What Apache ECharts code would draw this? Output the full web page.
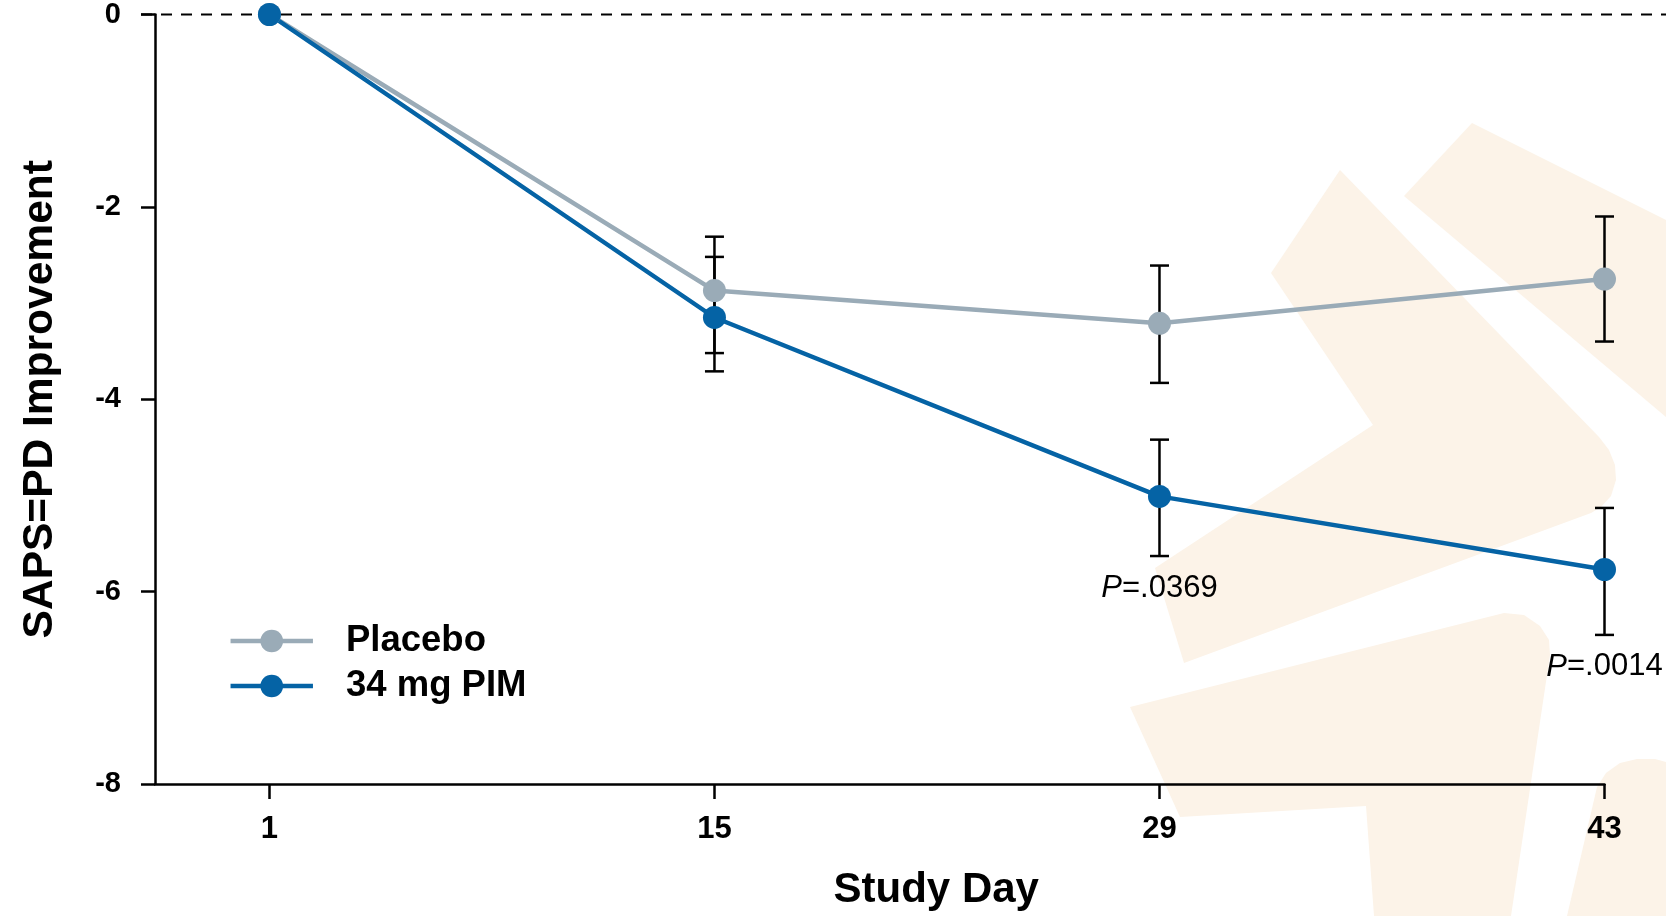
<!DOCTYPE html>
<html><head><meta charset="utf-8">
<script src="https://cdn.jsdelivr.net/npm/echarts@6/dist/echarts.min.js"></script>
<style>html,body{margin:0;padding:0;background:#fff}#c{width:1666px;height:916px}</style>
</head><body><div id="c"></div>
<script>
// ---- data ----
const studyDays   = [1, 15, 29, 43];
const placebo     = [0, -2.87, -3.21, -2.75];
const pim         = [0, -3.15, -5.01, -5.77];
const placeboHigh = [null, -2.31, -2.61, -2.10];
const placeboLow  = [null, -3.52, -3.83, -3.40];
const pimHigh     = [null, -2.52, -4.42, -5.13];
const pimLow      = [null, -3.71, -5.63, -6.45];
const pValues     = ['', '', '.0369', '.0014'];
const seriesNames = ['Placebo', '34 mg PIM'];
const xTickValues = [1, 15, 29, 43];
const yAxisTitle  = 'SAPS=PD Improvement';
const xAxisTitle  = 'Study Day';

const FONT = 'Liberation Sans, Arial, Helvetica, sans-serif';
const C_PLACEBO = '#9aabb7';
const C_PIM = '#0563a5';

function errData(lo, hi) {
  const out = [];
  studyDays.forEach((d, i) => { if (lo[i] != null) out.push([d, lo[i], hi[i], i]); });
  return out;
}
function errRender(labels) {
  return function (params, api) {
    const x = api.value(0), lo = api.value(1), hi = api.value(2), idx = api.value(3);
    const pLo = api.coord([x, lo]), pHi = api.coord([x, hi]);
    const w = 9.5;
    const st = { stroke: '#000', lineWidth: 2.5 };
    const children = [
      { type: 'line', shape: { x1: pLo[0], y1: pLo[1], x2: pHi[0], y2: pHi[1] }, style: st },
      { type: 'line', shape: { x1: pLo[0] - w, y1: pLo[1], x2: pLo[0] + w, y2: pLo[1] }, style: st },
      { type: 'line', shape: { x1: pHi[0] - w, y1: pHi[1], x2: pHi[0] + w, y2: pHi[1] }, style: st }
    ];
    const lab = labels ? labels[idx] : '';
    if (lab) {
      children.push({
        type: 'text', x: pLo[0], y: pLo[1] + 32,
        style: {
          text: '{i|P}{n|=' + lab + '}',
          rich: {
            i: { fontStyle: 'italic', fontSize: 31, fontFamily: FONT, fill: '#000' },
            n: { fontSize: 31, fontFamily: FONT, fill: '#000' }
          },
          fontSize: 31, fontFamily: FONT, fill: '#000',
          align: 'center', verticalAlign: 'middle'
        }
      });
    }
    return { type: 'group', children };
  };
}

const chart = echarts.init(document.getElementById('c'), null, { renderer: 'canvas' });
const option = {
  animation: false,
  backgroundColor: '#ffffff',
  grid: { left: 155, right: 61.5, top: 14.3, bottom: 128.7, containLabel: false },
  legend: {
    orient: 'vertical', left: 228.3, top: 620, padding: 0,
    itemWidth: 82.4, itemHeight: 28.4, itemGap: 3,
    data: seriesNames,
    lineStyle: { width: 4.5 },
    textStyle: { fontFamily: FONT, fontWeight: 'bold', fontSize: 36.5, color: '#000', padding: [0, 0, 0, 28], lineHeight: 42 }
  },
  xAxis: {
    type: 'value', min: -2.6, max: 43,
    name: xAxisTitle, nameLocation: 'middle', nameGap: 85,
    nameTextStyle: { fontFamily: FONT, fontWeight: 'bold', fontSize: 42, color: '#000', padding: [0, 0, 0, 113] },
    axisLine: { onZero: false, lineStyle: { color: '#000', width: 2.5 } },
    axisTick: { show: true, length: 15, customValues: xTickValues, lineStyle: { color: '#000', width: 2.5 } },
    axisLabel: { customValues: xTickValues, fontFamily: FONT, fontWeight: 'bold', fontSize: 31, color: '#000', margin: 30 },
    splitLine: { show: false }
  },
  yAxis: {
    type: 'value', min: -8, max: 0, interval: 2,
    name: yAxisTitle, nameLocation: 'middle', nameGap: 93, nameRotate: 90,
    nameTextStyle: { fontFamily: FONT, fontWeight: 'bold', fontSize: 42.5, color: '#000' },
    axisLine: { onZero: false, lineStyle: { color: '#000', width: 2.5 } },
    axisTick: { show: true, length: 14, lineStyle: { color: '#000', width: 2.5 } },
    axisLabel: { fontFamily: FONT, fontWeight: 'bold', fontSize: 29, color: '#000', margin: 34 },
    splitLine: { show: false }
  },
  series: [
    {
      type: 'custom', name: 'placeboErr', renderItem: errRender(null),
      encode: { x: 0, y: [1, 2] }, data: errData(placeboLow, placeboHigh), z: 2, silent: true
    },
    {
      type: 'line', name: seriesNames[0],
      data: studyDays.map((d, i) => [d, placebo[i]]),
      symbol: 'circle', symbolSize: 23,
      lineStyle: { color: C_PLACEBO, width: 4.5 }, itemStyle: { color: C_PLACEBO }, z: 2
    },
    {
      type: 'custom', name: 'pimErr', renderItem: errRender(pValues),
      encode: { x: 0, y: [1, 2] }, data: errData(pimLow, pimHigh), z: 2, silent: true
    },
    {
      type: 'line', name: seriesNames[1],
      data: studyDays.map((d, i) => [d, pim[i]]),
      symbol: 'circle', symbolSize: 23,
      lineStyle: { color: C_PIM, width: 4.5 }, itemStyle: { color: C_PIM }, z: 2
    }
  ]
};
chart.setOption(option);

// decorative watermark + zero reference line
const y0 = chart.convertToPixel({ yAxisIndex: 0 }, 0);
const BG = '#fcf3e8';
const wm = [
  [[1340,170],[1599,437],[1609,450],[1615,465],[1616,480],[1611,496],[1601,507],[1591,513],[1184,663],[1155,568],[1373,425],[1271,273]],
  [[1472,123],[1666,220],[1666,417],[1404,196]],
  [[1130,707],[1504,613],[1524,615],[1540,626],[1549,640],[1550,655],[1511,916],[1374,916],[1366,806],[1180,817]],
  [[1567,916],[1597,787],[1606,773],[1620,763],[1637,759],[1655,759],[1666,762],[1666,916]]
];
const graphics = wm.map(pts => ({ type: 'polygon', z: -10, silent: true, shape: { points: pts }, style: { fill: BG } }));
graphics.push({
  type: 'line', z: 1, silent: true,
  shape: { x1: 141, y1: y0, x2: 1666, y2: y0 },
  style: { stroke: '#000', lineWidth: 2.2, lineDash: [11, 9] }
});
chart.setOption({ graphic: graphics });
</script>
</body></html>
